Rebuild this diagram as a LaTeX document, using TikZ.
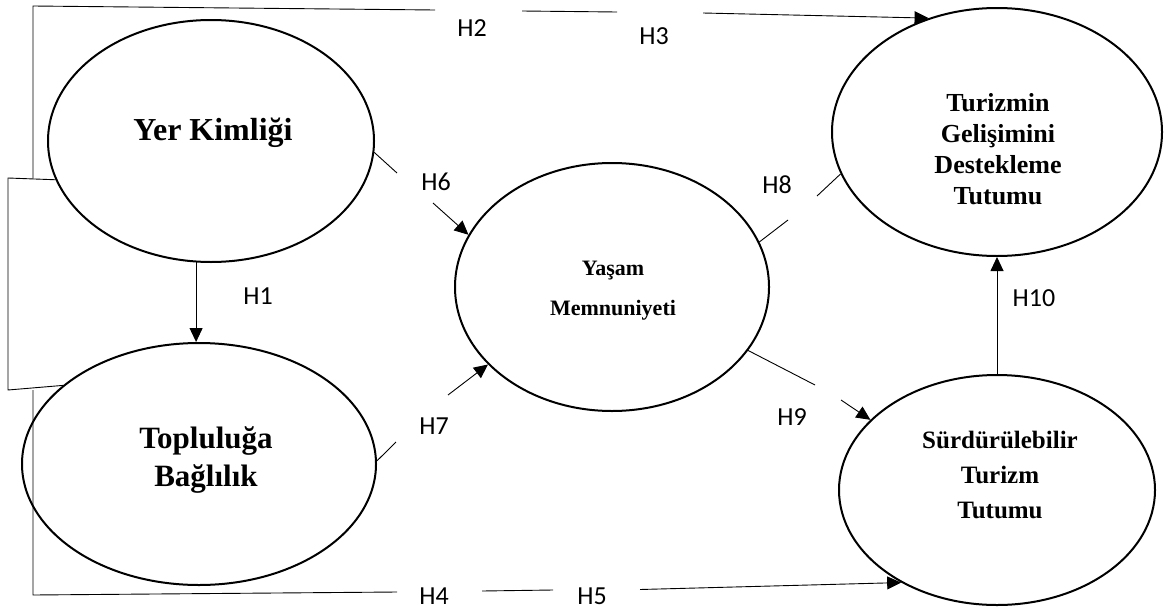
\documentclass[tikz,border=0pt]{standalone}
\usepackage{fontspec}
\setmainfont{Liberation Serif}
\newfontfamily\hfont{Carlito}
\usetikzlibrary{shapes.geometric,arrows.meta}
\begin{document}
\begin{tikzpicture}[x=1pt,y=-1pt,
  ell/.style={draw, line width=2pt, ellipse, inner sep=0pt},
  txt/.style={align=center, anchor=base, inner sep=0pt},
  con/.style={line width=0.9pt},
  arr/.style={con, -{Triangle[length=14pt,width=13pt]}},
  hl/.style={font=\hfont\fontsize{26}{30}\selectfont, inner sep=0pt}]
\useasboundingbox (0,0) rectangle (1174,613);
% ellipses
\node[ell, minimum width=326pt, minimum height=242pt] (yk) at (211,141) {};
\node[ell, minimum width=354pt, minimum height=242pt] (tb) at (199,464) {};
\node[ell, minimum width=314pt, minimum height=248pt] (ym) at (612,287) {};
\node[ell, minimum width=330pt, minimum height=248pt] (tg) at (997,132) {};
\node[ell, minimum width=316pt, minimum height=230pt] (st) at (997,490) {};
% texts (anchor at baseline of last line)
\node[txt, font=\bfseries\fontsize{32}{38}\selectfont] (ykt) at (213,140) {Yer Kimliği};
\node[txt, font=\bfseries\fontsize{31}{38}\selectfont] (tbt) at (206,486) {Topluluğa\\Bağlılık};
\node[txt, font=\bfseries\fontsize{22}{40}\selectfont] (ymt) at (613,315) {Yaşam\\Memnuniyeti};
\node[txt, font=\bfseries\fontsize{26}{31}\selectfont] (tgt) at (998,204) {Turizmin\\Gelişimini\\Destekleme\\Tutumu};
\node[txt, font=\bfseries\fontsize{25}{35}\selectfont] (stt) at (1000,518) {Sürdürülebilir\\Turizm\\Tutumu};
% left bracket
\coordinate (b1) at (8,178);
\coordinate (b2) at (8,390);
\coordinate (j1) at (33,178);
\coordinate (j2) at (33,390);
\draw[con] (yk.194) -- (b1) -- (b2) -- (tb.150);
% top path H2, H3
\coordinate (t0) at (33,6);
\coordinate (g1) at (435,10);
\coordinate (g2) at (522,11);
\coordinate (g3) at (617,12);
\coordinate (g4) at (703,13);
\draw[con] (j1) -- (t0) -- (g1);
\draw[con] (g2) -- (g3);
\draw[arr] (g4) -- (tg.121);
% bottom path H4, H5
\coordinate (u0) at (33,595);
\coordinate (k1) at (397,592);
\coordinate (k2) at (482,591);
\coordinate (k3) at (553,590);
\coordinate (k4) at (640,589.5);
\draw[con] (j2) -- (u0) -- (k1);
\draw[con] (k2) -- (k3);
\draw[arr] (k4) -- (st.224);
% H1
\draw[arr] (yk.263) -- (yk.263 |- tb.north);
% H6
\coordinate (h6a) at (397,173);
\coordinate (h6b) at (433,203);
\draw[con] (yk.-4) -- (h6a);
\draw[arr] (h6b) -- (ym.160);
% H7
\coordinate (h7a) at (396,442);
\coordinate (h7b) at (448,395);
\draw[con] (tb.1) -- (h7a);
\draw[arr] (h7b) -- (ym.212);
% H8
\coordinate (h8a) at (788,220);
\coordinate (h8b) at (817,196);
\draw[con] (ym.17) -- (h8a);
\draw[con] (h8b) -- (tg.195.5);
% H9
\coordinate (h9a) at (815,385);
\coordinate (h9b) at (841,400);
\draw[con] (ym.-25) -- (h9a);
\draw[arr] (h9b) -- (st.151);
% H10
\draw[arr] (st.north) -- (tg.south);
% labels
\node[hl] (l1) at (258,296) {H1};
\node[hl] (l2) at (472,28) {H2};
\node[hl] (l3) at (654,36) {H3};
\node[hl] (l4) at (434,596) {H4};
\node[hl] (l5) at (592,596) {H5};
\node[hl] (l6) at (436,182) {H6};
\node[hl] (l7) at (434,426) {H7};
\node[hl] (l8) at (777,185) {H8};
\node[hl] (l9) at (792,417) {H9};
\node[hl] (l10) at (1034,298) {H10};
\end{tikzpicture}
\end{document}
